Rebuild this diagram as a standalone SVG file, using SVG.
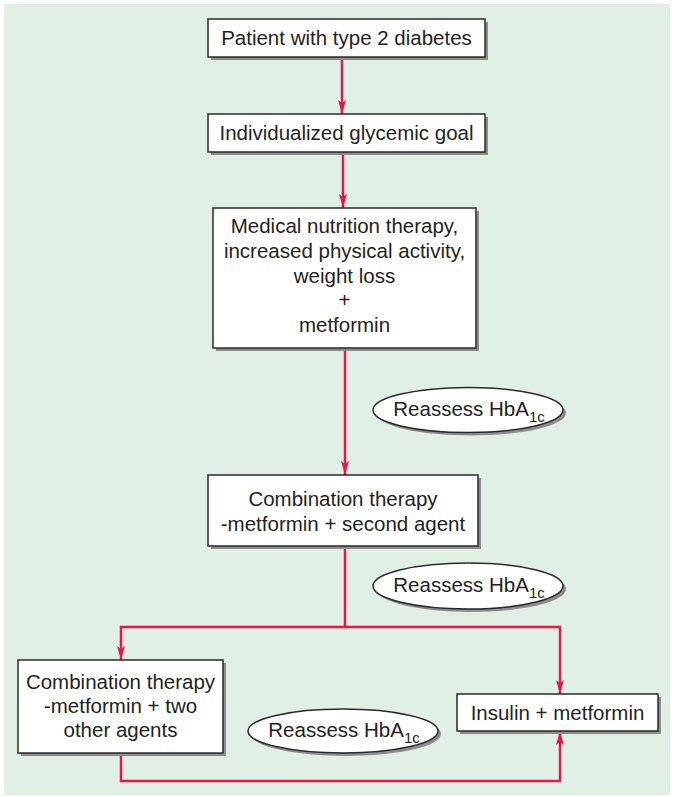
<svg xmlns="http://www.w3.org/2000/svg" width="674" height="797" viewBox="0 0 674 797">
<defs>
<style>
.bg{fill:#e1f0e5}
.box{fill:#ffffff;stroke:#2a2a2a;stroke-width:1.5}
.sh{fill:#8c8c8c}
.t{font-family:"Liberation Sans",Arial,sans-serif;font-size:20.5px;fill:#231f20;text-anchor:middle}
.sub{font-size:15px}
.c{fill:none;stroke:#e5184e;stroke-width:2.5}
</style>
<marker id="ah" viewBox="0 0 14 8" refX="14" refY="4" markerWidth="14" markerHeight="8" markerUnits="userSpaceOnUse" orient="auto">
<path d="M0,0 L14,4 L0,8 L3,4 z" fill="#e5184e"/>
</marker>
</defs>
<rect class="bg" x="4" y="4" width="666" height="791"/>
<g id="connectors">
<path class="c" d="M342,58 V114" marker-end="url(#ah)"/>
<path class="c" d="M343,153 V208" marker-end="url(#ah)"/>
<path class="c" d="M345,348 V475" marker-end="url(#ah)"/>
<path class="c" d="M345,547 V627 H121 V660" marker-end="url(#ah)"/>
<path class="c" d="M345,627 H560 V694" marker-end="url(#ah)"/>
<path class="c" d="M121,754 V781 H560 V731" marker-end="url(#ah)"/>
</g>
<g id="n1">
<rect class="sh" x="211" y="22" width="277" height="38"/>
<rect class="box" x="208" y="19" width="277" height="38"/>
<text class="t" x="346.5" y="45">Patient with type 2 diabetes</text>
</g>
<g id="n2">
<rect class="sh" x="211" y="117" width="277" height="38"/>
<rect class="box" x="208" y="114" width="277" height="38"/>
<text class="t" x="346.5" y="139.5">Individualized glycemic goal</text>
</g>
<g id="n3">
<rect class="sh" x="216" y="211" width="263" height="140"/>
<rect class="box" x="213" y="208" width="263" height="140"/>
<text class="t" x="344.5" y="233">Medical nutrition therapy,</text>
<text class="t" x="344.5" y="258">increased physical activity,</text>
<text class="t" x="344.5" y="282.5">weight loss</text>
<text class="t" x="344.5" y="307">+</text>
<text class="t" x="344.5" y="331.5">metformin</text>
</g>
<g id="e1">
<ellipse class="sh" cx="471" cy="413" rx="95" ry="22.5"/>
<ellipse class="box" cx="468" cy="410" rx="95" ry="22.5"/>
<text class="t" x="469" y="416">Reassess HbA<tspan class="sub" dy="6">1c</tspan></text>
</g>
<g id="n4">
<rect class="sh" x="211" y="478" width="270" height="71"/>
<rect class="box" x="208" y="475" width="270" height="71"/>
<text class="t" x="343" y="505.5">Combination therapy</text>
<text class="t" x="343" y="531">-metformin + second agent</text>
</g>
<g id="e2">
<ellipse class="sh" cx="471" cy="589" rx="95" ry="23"/>
<ellipse class="box" cx="468" cy="586" rx="95" ry="23"/>
<text class="t" x="469" y="592">Reassess HbA<tspan class="sub" dy="6">1c</tspan></text>
</g>
<g id="n5">
<rect class="sh" x="21" y="663" width="205" height="93"/>
<rect class="box" x="18" y="660" width="205" height="93"/>
<text class="t" x="120.5" y="688.5">Combination therapy</text>
<text class="t" x="120.5" y="712.5">-metformin + two</text>
<text class="t" x="120.5" y="737">other agents</text>
</g>
<g id="n6">
<rect class="sh" x="460" y="697" width="201" height="37"/>
<rect class="box" x="457" y="694" width="201" height="37"/>
<text class="t" x="557.5" y="719.5">Insulin + metformin</text>
</g>
<g id="e3">
<ellipse class="sh" cx="346" cy="734" rx="95" ry="22"/>
<ellipse class="box" cx="343" cy="731" rx="95" ry="22"/>
<text class="t" x="344" y="737">Reassess HbA<tspan class="sub" dy="6">1c</tspan></text>
</g>
</svg>
